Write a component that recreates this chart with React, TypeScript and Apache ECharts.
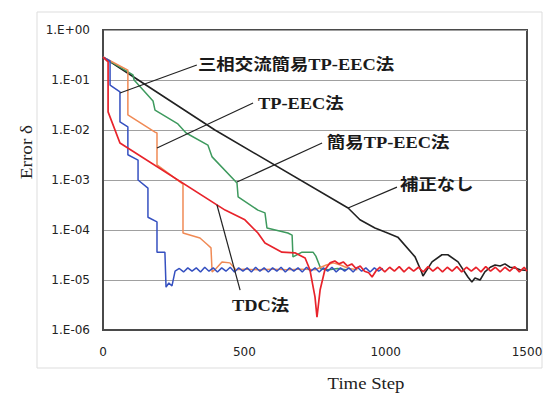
import React, { useEffect, useRef } from "react";
import * as echarts from "echarts";

// ---- axis ----
const xTicks = [0, 500, 1000, 1500];
const xTickLabels = ["0", "500", "1000", "1500"];
const yExponents = [0, -1, -2, -3, -4, -5, -6];
const yTickLabels = ["1.E+00", "1.E-01", "1.E-02", "1.E-03", "1.E-04", "1.E-05", "1.E-06"];

// ---- series: 補正なし (black) ----
const blackSteps = [0, 396, 867, 909, 962, 998, 1043, 1104, 1128, 1132, 1164, 1199, 1220, 1256, 1291, 1305, 1316, 1334, 1351, 1370, 1387, 1405, 1422, 1440, 1457, 1475, 1500];
const blackValues = [0.288, 0.01, 0.000275, 0.00016, 0.00011, 0.000091, 0.000072, 0.000029, 0.000014, 0.000012, 0.000023, 0.000032, 0.000032, 0.000023, 0.0000115, 0.0000091, 0.000011, 0.00001, 0.0000145, 0.000018, 0.00002, 0.000019, 0.000021, 0.000018, 0.0000175, 0.000016, 0.0000155];

// ---- series: 簡易TP-EEC法 (green) ----
const greenSteps = [0, 106, 110, 177, 184, 265, 294, 371, 386, 474, 478, 548, 573, 580, 654, 669, 672, 704, 743, 753, 771, 800, 830, 860];
const greenValues = [0.288, 0.126, 0.1, 0.038, 0.025, 0.0132, 0.0087, 0.005, 0.0029, 0.00087, 0.00046, 0.00025, 0.00022, 0.00011, 0.000087, 0.000079, 0.000029, 0.000036, 0.000036, 0.00003, 0.0000166, 0.000016, 0.000017, 0.000016];

// ---- series: TP-EEC法 (orange) ----
const orangeSteps = [0, 88, 88, 184, 191, 191, 283, 283, 343, 368, 382, 386, 400, 421, 449, 470, 500, 550, 600, 650, 700, 750, 790, 815, 840, 870, 900];
const orangeValues = [0.288, 0.158, 0.02, 0.0091, 0.0087, 0.002, 0.00083, 0.000087, 0.000069, 0.000052, 0.000044, 0.0000145, 0.000017, 0.000023, 0.000022, 0.000016, 0.0000165, 0.000016, 0.0000165, 0.000016, 0.0000165, 0.000016, 0.00002, 0.000022, 0.00002, 0.000017, 0.000016];

// ---- series: 三相交流簡易TP-EEC法 (blue) ----
const blueSteps = [0, 25, 25, 60, 60, 88, 88, 124, 124, 159, 159, 191, 191, 219, 223, 233, 244, 255,
  270, 285, 300, 315, 330, 345, 360, 375, 390, 405, 420, 435, 450, 465, 480, 495, 510, 525, 540, 555,
  570, 585, 600, 615, 630, 645, 660, 675, 690, 705, 720, 735, 750, 765, 780, 795, 810, 825, 840, 855,
  870, 885, 900, 915, 930, 945, 960, 975, 990];
const blueValues = [0.288, 0.24, 0.079, 0.058, 0.0145, 0.0115, 0.0032, 0.0025, 0.001, 0.00069, 0.00018, 0.000145, 0.000036, 0.000036, 0.0000072, 0.0000087, 0.0000076, 0.000015,
  1.7e-5, 1.45e-5, 1.75e-5, 1.5e-5, 1.75e-5, 1.45e-5, 1.8e-5, 1.5e-5, 1.75e-5, 1.45e-5,
  1.75e-5, 1.5e-5, 1.8e-5, 1.45e-5, 1.75e-5, 1.5e-5, 1.75e-5, 1.45e-5, 1.8e-5, 1.5e-5,
  1.75e-5, 1.45e-5, 1.75e-5, 1.5e-5, 1.8e-5, 1.45e-5, 1.75e-5, 1.5e-5, 1.75e-5, 1.45e-5,
  1.8e-5, 1.5e-5, 1.75e-5, 1.45e-5, 1.75e-5, 1.5e-5, 1.8e-5, 1.45e-5, 1.75e-5, 1.5e-5,
  1.75e-5, 1.45e-5, 1.8e-5, 1.5e-5, 1.75e-5, 1.45e-5, 1.75e-5, 1.5e-5, 1.7e-5];

// ---- series: TDC法 (red) ----
const redSteps = [0, 18, 18, 60, 432, 502, 548, 573, 633, 679, 715, 732, 750, 757, 768, 785, 803, 820, 835, 850, 865, 880, 895, 910, 925, 940, 952, 965, 980,
  997, 1014, 1031, 1048, 1065, 1082, 1099, 1116, 1133, 1150, 1167, 1184, 1201, 1218, 1235, 1252, 1269, 1286, 1303, 1320,
  1337, 1354, 1371, 1388, 1405, 1422, 1439, 1456, 1473, 1490, 1500];
const redValues = [0.288, 0.23, 0.023, 0.0055, 0.00025, 0.00016, 0.000087, 0.000055, 0.000036, 0.000035, 0.0000275, 0.000016, 0.0000046, 0.0000018, 0.0000063, 0.000016, 0.000022, 0.000024, 0.000021, 0.000023, 0.000019, 0.000021, 0.000017, 0.000019, 0.000015, 0.000014, 0.0000115, 0.000015, 0.000018,
  1.45e-5, 1.8e-5, 1.5e-5, 1.85e-5, 1.45e-5, 1.8e-5, 1.5e-5, 1.8e-5, 1.45e-5, 1.85e-5, 1.5e-5, 1.8e-5, 1.45e-5, 1.8e-5, 1.5e-5, 1.85e-5, 1.45e-5, 1.8e-5, 1.5e-5, 1.8e-5,
  1.45e-5, 1.85e-5, 1.5e-5, 1.8e-5, 1.45e-5, 1.8e-5, 1.5e-5, 1.85e-5, 1.45e-5, 1.8e-5, 1.5e-5];

// ---- annotations (data coordinates) ----
const annoTexts = ["三相交流簡易TP-EEC法", "TP-EEC法", "簡易TP-EEC法", "補正なし", "TDC法"];
const annoTextPos = [[336, 0.2], [548, 0.033], [792, 0.0055], [1051, 0.00079], [456, 0.000003]];
const annoLeaderFrom = [[332, 0.2], [531, 0.0347], [775, 0.0055], [1040, 0.00072], [485, 0.0000063]];
const annoLeaderTo = [[60, 0.055], [191, 0.00437], [474, 0.00091], [867, 0.000275], [403, 0.00032]];

const zip = (xs: number[], ys: number[]) => xs.map((x, i) => [x, ys[i]]);

export default function App() {
  const ref = useRef<HTMLDivElement>(null);
  useEffect(() => {
    const chart = echarts.init(ref.current!, undefined, { renderer: "svg" });
    const mk = (name: string, xs: number[], ys: number[], color: string, width: number) => ({
      name,
      type: "line",
      data: zip(xs, ys),
      showSymbol: false,
      symbol: "none",
      lineStyle: { color, width },
      itemStyle: { color },
      silent: true,
    });
    chart.setOption({
      animation: false,
      backgroundColor: "#ffffff",
      grid: { left: 103, right: 23, top: 30, bottom: 63, show: true, borderColor: "#4a4a4a", borderWidth: 2 },
      xAxis: {
        type: "value",
        min: xTicks[0],
        max: xTicks[xTicks.length - 1],
        interval: xTicks[1] - xTicks[0],
        axisLine: { show: true, lineStyle: { color: "#4a4a4a", width: 2 } },
        axisTick: { show: false },
        splitLine: { show: false },
        axisLabel: {
          color: "#222",
          fontSize: 12,
          fontFamily: "DejaVu Sans",
          margin: 16,
          formatter: (v: number) => {
            const i = xTicks.indexOf(v);
            return i >= 0 ? xTickLabels[i] : "";
          },
        },
      },
      yAxis: {
        type: "log",
        logBase: 10,
        min: 1e-6,
        max: 1,
        axisLine: { show: true, lineStyle: { color: "#4a4a4a", width: 2 } },
        axisTick: { show: false },
        splitLine: { show: true, lineStyle: { color: "#a0a0a0", width: 1 } },
        axisLabel: {
          color: "#222",
          fontSize: 12,
          fontFamily: "DejaVu Sans",
          margin: 13,
          formatter: (v: number) => {
            const e = Math.round(Math.log10(v));
            const i = yExponents.indexOf(e);
            return i >= 0 ? yTickLabels[i] : "";
          },
        },
      },
      series: [
        mk("補正なし", blackSteps, blackValues, "#222222", 1.6),
        mk("簡易TP-EEC法", greenSteps, greenValues, "#3e9a5e", 1.5),
        mk("TP-EEC法", orangeSteps, orangeValues, "#f08a55", 1.5),
        mk("三相交流簡易TP-EEC法", blueSteps, blueValues, "#3550c0", 1.5),
        mk("TDC法", redSteps, redValues, "#e8232b", 1.7),
      ],
    });

    const px = (p: number[]) => chart.convertToPixel({ gridIndex: 0 }, p) as number[];
    const graphics: any[] = [
      {
        type: "rect",
        shape: { x: 37, y: 12, width: 505, height: 356 },
        style: { fill: "none", stroke: "#dddddd", lineWidth: 1 },
        silent: true,
        z: -10,
      },
      {
        type: "text",
        x: 27,
        y: 152,
        rotation: Math.PI / 2,
        scaleX: 1.2,
        style: { text: "Error δ", fontSize: 16, fontFamily: "Liberation Serif", fill: "#222", align: "center", verticalAlign: "middle" },
      },
      {
        type: "text",
        x: 366,
        y: 383,
        scaleX: 1.17,
        style: { text: "Time Step", fontSize: 16, fontFamily: "Liberation Serif", fill: "#222", align: "center", verticalAlign: "middle" },
      },
    ];
    annoTexts.forEach((t, i) => {
      const a = px(annoLeaderFrom[i]);
      const b = px(annoLeaderTo[i]);
      const tp = px(annoTextPos[i]);
      graphics.push({
        type: "line",
        shape: { x1: a[0], y1: a[1], x2: b[0], y2: b[1] },
        style: { stroke: "#222", lineWidth: 1.2 },
        silent: true,
        z: 100,
      });
      graphics.push({
        type: "text",
        x: tp[0],
        y: tp[1],
        scaleX: 1.15,
        z: 100,
        style: {
          text: t,
          fontSize: 16,
          fontWeight: "bold",
          fontFamily: "'Liberation Serif', 'Noto Sans CJK JP'",
          fill: "#1a1a1a",
          align: "left",
          verticalAlign: "middle",
        },
      });
    });
    chart.setOption({ graphic: graphics });
    return () => chart.dispose();
  }, []);
  return <div ref={ref} style={{ width: 550, height: 393, position: "absolute", left: 0, top: 0 }} />;
}
